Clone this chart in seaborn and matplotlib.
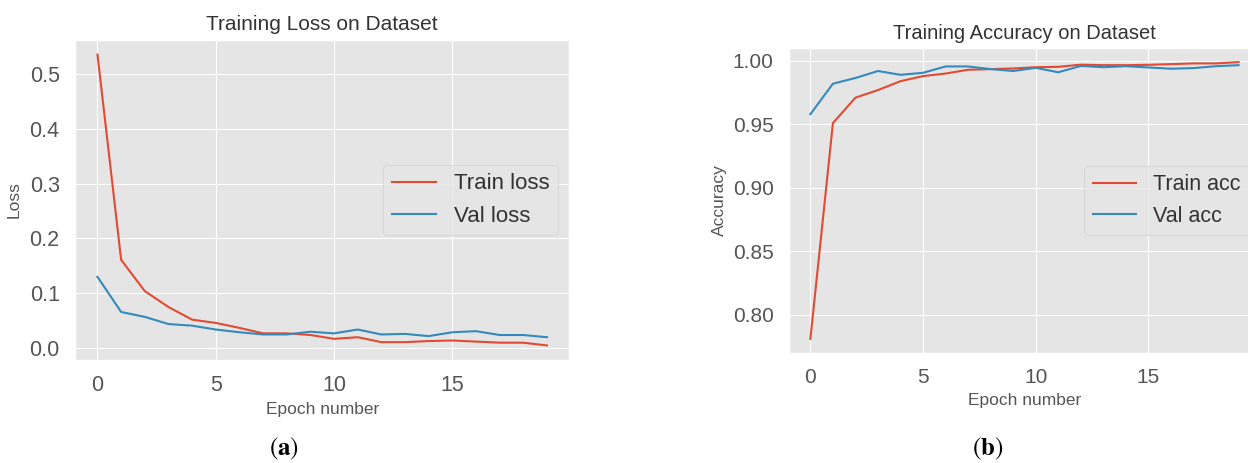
import numpy as np
import pandas as pd
import seaborn as sns
import matplotlib.pyplot as plt

# values
epochs = list(range(20))
train_loss = [0.535, 0.161, 0.104, 0.075, 0.052, 0.046, 0.037, 0.027, 0.027, 0.024,
              0.017, 0.020, 0.011, 0.011, 0.013, 0.014, 0.012, 0.010, 0.010, 0.005]
val_loss = [0.130, 0.066, 0.057, 0.044, 0.041, 0.034, 0.029, 0.025, 0.025, 0.030,
            0.027, 0.034, 0.025, 0.026, 0.022, 0.029, 0.031, 0.024, 0.024, 0.020]
train_acc = [0.781, 0.951, 0.971, 0.977, 0.984, 0.988, 0.990, 0.993, 0.9935, 0.994,
             0.995, 0.9953, 0.997, 0.9966, 0.9966, 0.9969, 0.9974, 0.998, 0.998, 0.999]
val_acc = [0.958, 0.982, 0.9865, 0.992, 0.989, 0.9906, 0.9956, 0.9956, 0.9935, 0.992,
           0.9945, 0.991, 0.996, 0.995, 0.9958, 0.9948, 0.9938, 0.9943, 0.9958, 0.9966]

plt.style.use('ggplot')
plt.rcParams['font.family'] = ['Liberation Sans', 'DejaVu Sans']
plt.rcParams['legend.labelcolor'] = '#333333'

red = '#E24A33'
blue = '#348ABD'

fig = plt.figure(figsize=(12.48, 4.63), dpi=100)
ax1 = fig.add_axes([0.0601, 0.2225, 0.3962, 0.6911])
ax2 = fig.add_axes([0.6322, 0.2382, 0.3774, 0.6575])

# (a) loss
sns.lineplot(x=epochs, y=train_loss, ax=ax1, color=red, linewidth=1.5, label='Train loss')
sns.lineplot(x=epochs, y=val_loss, ax=ax1, color=blue, linewidth=1.5, label='Val loss')
ax1.set_title('Training Loss on Dataset', fontsize=15, color='#333333', pad=7)
ax1.set_xlabel('Epoch number', fontsize=12.5, color='#555555', labelpad=4)
ax1.set_ylabel('Loss', fontsize=12.5, color='#555555', labelpad=6)
ax1.set_xticks([0, 5, 10, 15])
ax1.set_yticks([0.0, 0.1, 0.2, 0.3, 0.4, 0.5])
ax1.tick_params(labelsize=15.5, length=0, pad=11, labelcolor='#555555')
ax1.legend(loc='center right', fontsize=16)

# (b) accuracy
sns.lineplot(x=epochs, y=train_acc, ax=ax2, color=red, linewidth=1.5, label='Train acc')
sns.lineplot(x=epochs, y=val_acc, ax=ax2, color=blue, linewidth=1.5, label='Val acc')
ax2.set_title('Training Accuracy on Dataset', fontsize=14.5, color='#333333', pad=7)
ax2.set_xlabel('Epoch number', fontsize=12.5, color='#555555', labelpad=4)
ax2.set_ylabel('Accuracy', fontsize=12.5, color='#555555', labelpad=4)
ax2.set_xticks([0, 5, 10, 15])
ax2.set_yticks([0.80, 0.85, 0.90, 0.95, 1.00])
ax2.tick_params(labelsize=15, length=0, pad=11, labelcolor='#555555')
ax2.legend(loc='center right', fontsize=15.5)

# panel captions
for xpos, letter in [(0.2276, 'a'), (0.7917, 'b')]:
    fig.text(xpos, 0.03, r'($\mathbf{' + letter + r'}$)', ha='center', va='center',
             fontsize=18, family='STIXGeneral', math_fontfamily='stix', color='black')

fig.savefig('out.png', dpi=100, facecolor='white')
